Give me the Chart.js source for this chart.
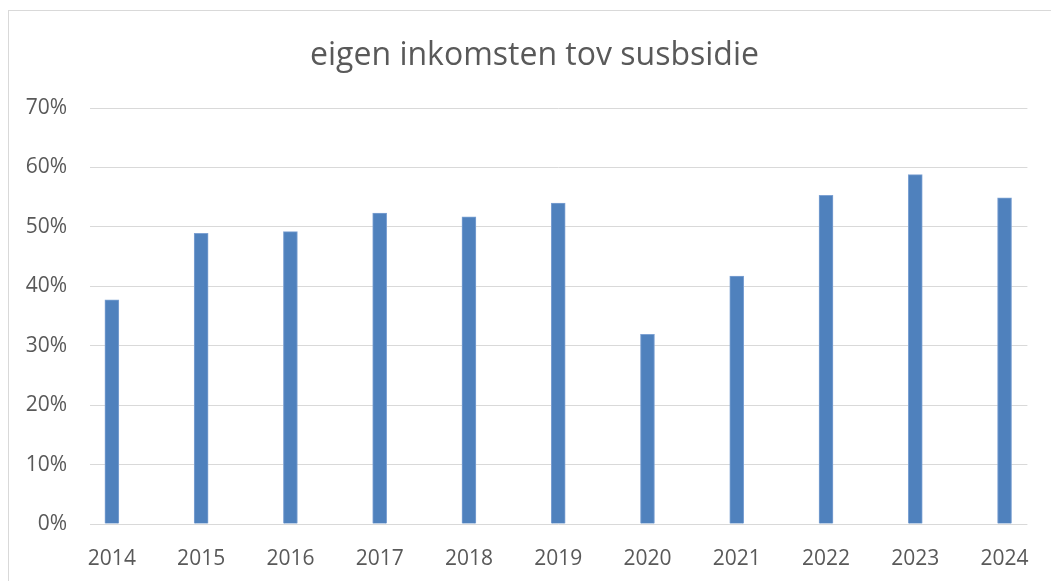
<!DOCTYPE html>
<html>
<head>
<meta charset="utf-8">
<title>eigen inkomsten tov susbsidie</title>
<script src="https://cdn.jsdelivr.net/npm/chart.js@4"></script>
<style>
  html, body { margin: 0; padding: 0; background: #fff; }
  #wrap { width: 1051px; height: 581px; }
</style>
</head>
<body>
<div id="wrap"><canvas id="chart"></canvas></div>
<script>
// data
const years = ['2014', '2015', '2016', '2017', '2018', '2019', '2020', '2021', '2022', '2023', '2024'];
const shares = [37.7, 48.9, 49.2, 52.3, 51.7, 54.0, 31.9, 41.7, 55.3, 58.8, 54.9];
const yTicks = [0, 10, 20, 30, 40, 50, 60, 70];
const chartTitle = 'eigen inkomsten tov susbsidie';

const points = years.map((y, i) => ({ x: i, y: shares[i] }));

// light frame like the Excel chart area, plus the title centred on the frame
const framePlugin = {
  id: 'frame',
  beforeDraw(chart) {
    const c = chart.ctx;
    c.save();
    c.fillStyle = '#fff';
    c.fillRect(0, 0, chart.width, chart.height);
    c.strokeStyle = '#d9d9d9';
    c.lineWidth = 1;
    c.strokeRect(8.5, 10.5, chart.width + 20, chart.height + 20);
    c.fillStyle = '#595959';
    c.font = '32px "Open Sans"';
    c.textAlign = 'center';
    c.textBaseline = 'alphabetic';
    c.fillText(chartTitle, 534.5, 65);
    c.restore();
  }
};

new Chart(document.getElementById('chart').getContext('2d'), {
  type: 'bar',
  data: {
    datasets: [{
      label: chartTitle,
      data: points,
      backgroundColor: '#4f81bd',
      borderColor: '#7ea2d3',
      borderWidth: { left: 1, right: 1, top: 1, bottom: 0 },
      barThickness: 14
    }]
  },
  plugins: [framePlugin],
  options: {
    responsive: true,
    maintainAspectRatio: false,
    animation: false,
    layout: { padding: { left: 0, right: 18, top: 108, bottom: 0 } },
    plugins: {
      legend: { display: false },
      tooltip: { enabled: false },
      title: { display: false }
    },
    scales: {
      x: {
        type: 'linear',
        offset: false,
        min: -0.245,
        max: 10.256,
        grid: { display: false, drawTicks: false },
        border: { display: false },
        afterBuildTicks: (scale) => { scale.ticks = years.map((_, i) => ({ value: i })); },
        afterFit: (scale) => { scale.height = 57; },
        ticks: {
          autoSkip: false,
          maxRotation: 0,
          padding: 22,
          color: '#595959',
          font: { family: 'Open Sans', size: 21 },
          callback: (v) => years[v]
        }
      },
      y: {
        min: 0,
        max: 70,
        afterFit: (scale) => { scale.width = 90; },
        afterBuildTicks: (scale) => { scale.ticks = yTicks.map(v => ({ value: v })); },
        grid: { color: '#d9d9d9', lineWidth: 1, drawTicks: false },
        border: { display: false },
        ticks: {
          padding: 23,
          color: '#595959',
          font: { family: 'Open Sans', size: 21 },
          callback: (v) => v + '%'
        }
      }
    }
  }
});
</script>
</body>
</html>
